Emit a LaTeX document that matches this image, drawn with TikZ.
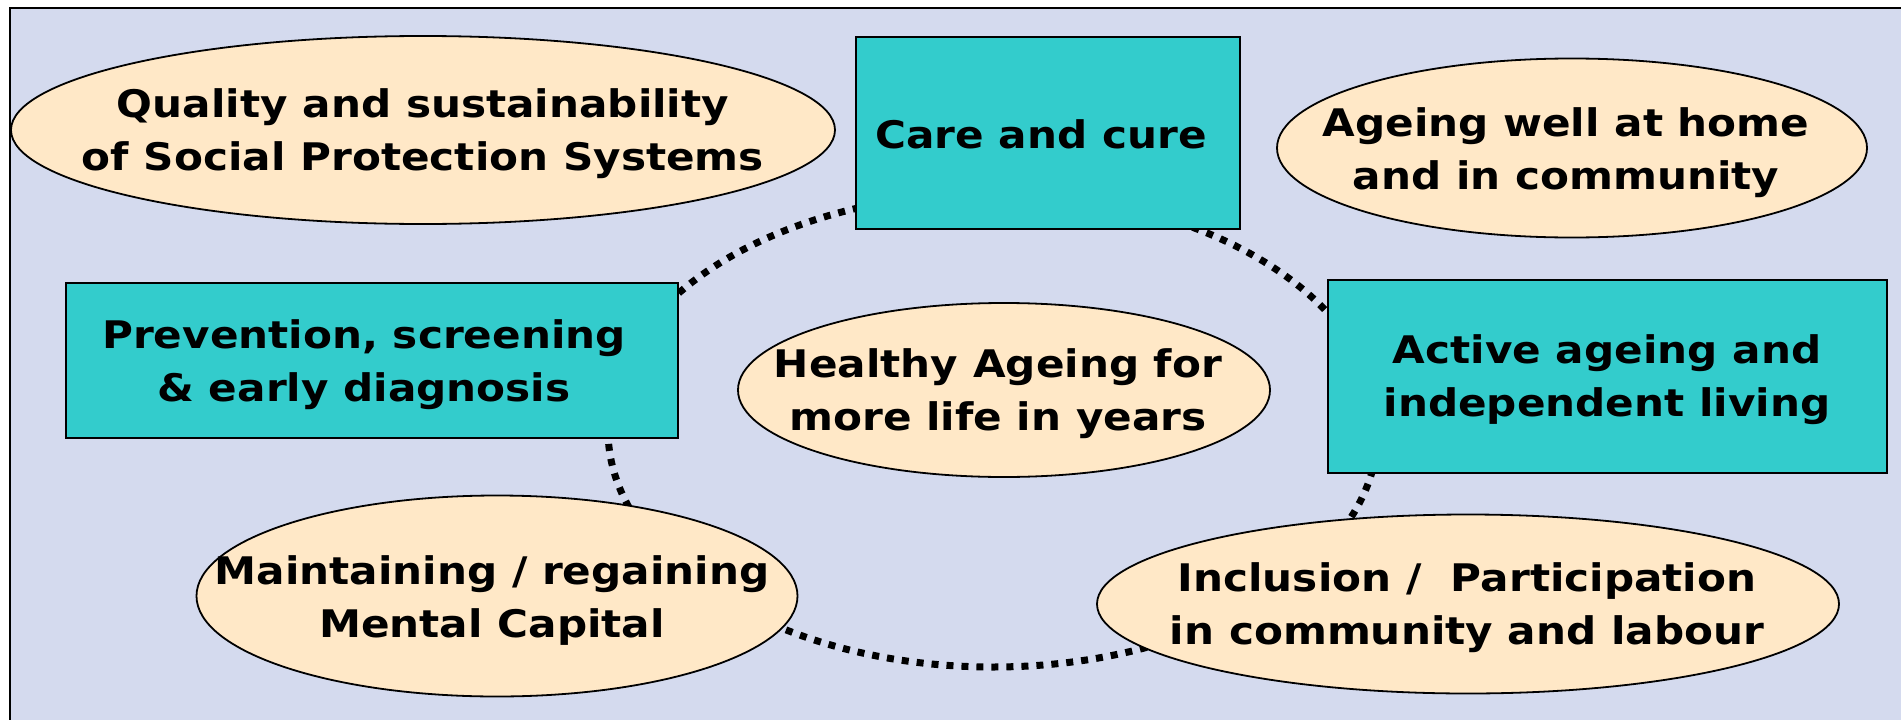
\documentclass[tikz,border=0pt]{standalone}
\usepackage{fontspec}
\setmainfont{DejaVu Sans}[FakeStretch=1.11]
\usetikzlibrary{shapes.geometric}
\definecolor{bgc}{RGB}{212,218,238}
\definecolor{tealbox}{RGB}{51,204,204}
\definecolor{cream}{RGB}{255,232,199}
\begin{document}
\begin{tikzpicture}[x=1pt,y=-1pt,
  lbl/.style={font=\bfseries\fontsize{38}{53}\selectfont, align=center, text=black, inner sep=0pt},
  boxnode/.style={lbl, draw=black, line width=2pt, fill=tealbox, rectangle, inner sep=0pt},
  ovalnode/.style={draw=black, line width=1.8pt, fill=cream, ellipse, inner sep=0pt},
  ring/.style={line width=7pt, dash pattern=on 7pt off 8pt}]
\useasboundingbox (0,0) rectangle (1901,720);
\begin{scope}
\clip (0,0) rectangle (1901,720);
\draw[fill=bgc, line width=2.5pt] (10,8) rectangle (1930,750);
\end{scope}
% dotted ring
\draw[ring] (993,430) ellipse [x radius=385pt, y radius=237pt];
% shapes
\node[ovalnode, minimum width=824pt, minimum height=188pt] (quality) at (423,130) {};
\node[lbl] (qualityt) at (423,134) {Quality and sustainability\\of Social Protection Systems};
\node[boxnode, minimum width=384pt, minimum height=192pt] (care) at (1048,133) {};
\node[lbl] (caret) at (1041,134) {Care and cure};
\node[ovalnode, minimum width=590pt, minimum height=179pt] (ageing) at (1572,148) {};
\node[lbl] (ageingt) at (1566,153) {Ageing well at home\\and in community};
\node[boxnode, minimum width=612pt, minimum height=155pt] (prev) at (372,360) {};
\node[lbl] (prevt) at (364,365) {Prevention, screening\\\&~early diagnosis};
\node[ovalnode, minimum width=532pt, minimum height=174pt] (healthy) at (1004,390) {};
\node[lbl] (healthyt) at (998,394) {Healthy Ageing for\\more life in years};
\node[boxnode, minimum width=559pt, minimum height=193pt] (active) at (1607,376) {};
\node[lbl] (activet) at (1607,380) {Active ageing and\\independent living};
\node[ovalnode, minimum width=601pt, minimum height=201pt] (mental) at (497,596) {};
\node[lbl] (mentalt) at (492,601) {Maintaining / regaining\\Mental Capital};
\node[ovalnode, minimum width=742pt, minimum height=179pt] (incl) at (1468,604) {};
\node[lbl] (inclt) at (1467,608) {Inclusion /\ \ Participation\\in community and labour};
\end{tikzpicture}
\end{document}
